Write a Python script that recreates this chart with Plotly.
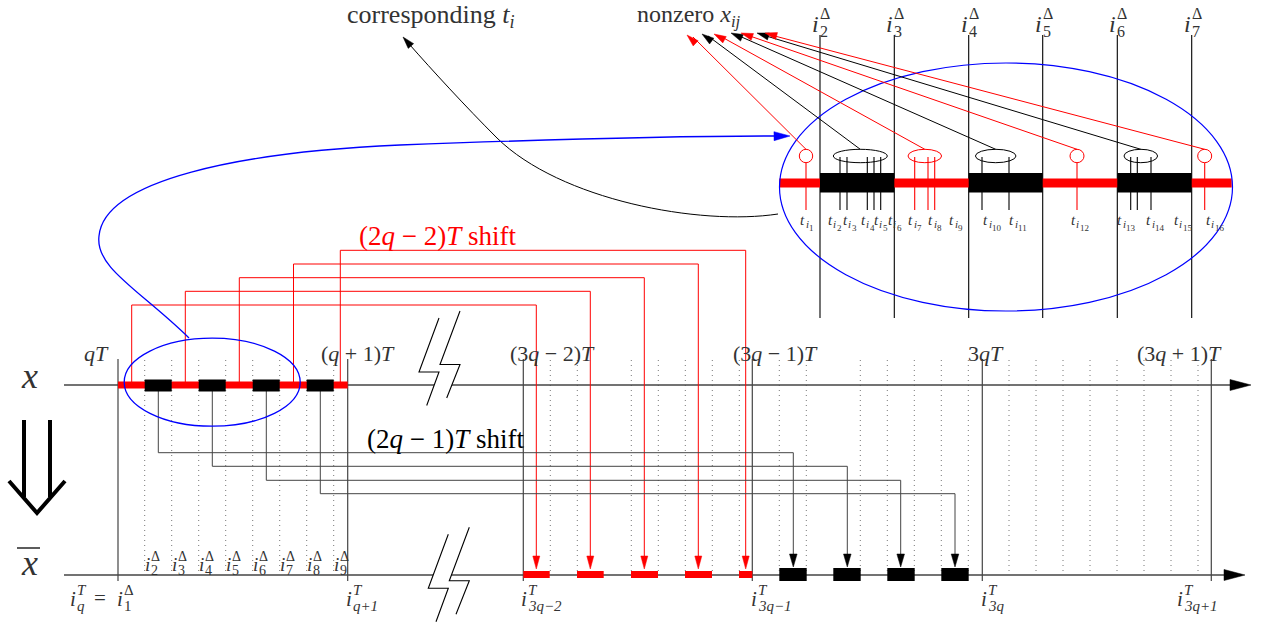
import math
import plotly.graph_objects as go

W, H = 1261, 626
FONT = "Liberation Serif"
TXT = "#333333"
RED = "#ff0000"
BLUE = "#0000ff"
BLK = "#000000"
AX = "#444444"
GRID = "#777777"

# ---------------- data (diagram coordinates) ----------------
AX_TOP_Y = 385
AX_BOT_Y = 575
period_x = [118.0, 347.7, 523.3, 752.3, 982.3, 1211.3]
period_top_labels = ["<i>qT</i>", "(<i>q</i> + 1)<i>T</i>", "(3<i>q</i> − 2)<i>T</i>",
                     "(3<i>q</i> − 1)<i>T</i>", "3<i>qT</i>", "(3<i>q</i> + 1)<i>T</i>"]
period_top_label_x = [84, 321, 510, 733, 968, 1137]
period_bot_subs = ["q", "q+1", "3q−2", "3q−1", "3q", "3q+1"]
period_bot_label_x = [70, 346, 521, 751, 981, 1177]

grid_left = [144.7, 171.7, 198.7, 225.7, 252.7, 279.7, 306.7, 333.7]
grid_right = [550.3, 577.3, 631.3, 658.3, 685.3, 712.3, 739.3, 779.3, 806.3, 860.3,
              887.3, 914.3, 941.3, 968.3, 1009, 1036, 1063, 1090, 1117, 1144, 1171, 1198]
delta_subs_bottom = ["2", "3", "4", "5", "6", "7", "8", "9"]

top_red_span = [118.0, 347.7]
top_black_blocks = [[144.7, 171.7], [198.7, 225.7], [252.7, 279.7], [306.7, 333.7]]

red_src_x = [131.7, 185.3, 239.3, 293.5, 340.3]
red_level_y = [305.0, 291.3, 277.7, 264.0, 250.3]
red_dst_x = [536.3, 590.3, 644.3, 698.3, 745.7]
bot_red_bars = [[523.3, 549.7], [577.0, 603.7], [631.0, 658.0], [685.0, 712.0], [739.0, 752.3]]

blk_src_x = [158.3, 212.3, 266.3, 320.3]
blk_level_y = [452.7, 466.3, 480.3, 493.7]
blk_dst_x = [793.3, 847.3, 900.7, 955.0]
bot_black_blocks = [[779.3, 806.7], [833.3, 860.7], [887.3, 914.7], [941.3, 968.7]]

# inset
inset_bar_y = 183
inset_span = [779.3, 1231.7]
inset_delta_x = [820.0, 894.3, 968.7, 1042.7, 1117.3, 1191.7]
inset_delta_subs = ["2", "3", "4", "5", "6", "7"]
inset_black_blocks = [[820.0, 894.3], [968.7, 1042.7], [1117.3, 1191.7]]
group_color = [RED, BLK, RED, BLK, RED, BLK, RED]
group_cx = [806.0, 860.3, 924.8, 995.7, 1077.0, 1140.8, 1204.7]
group_rx = [6.7, 27.0, 16.8, 20.3, 7.0, 16.8, 7.0]
group_ticks = [[806.0], [840.0, 847.0, 867.3, 874.0, 880.7], [914.7, 928.0, 934.7],
               [982.0, 1009.0], [1077.0], [1130.7, 1137.3, 1151.0], [1204.7]]
arrow_tip_x = [687, 702, 714, 731, 741, 757, 765]
arrow_tip_y = [35, 34, 34, 33, 33, 33, 33]
t_label_x = [807.7, 835, 850, 868, 881, 895, 915.7, 935.7, 956.7, 992.7, 1018.7,
             1080, 1126.7, 1155.7, 1183.3, 1215]
t_label_n = [str(k) for k in range(1, 17)]

shapes = []
annotations = []


def line(x0, y0, x1, y1, color=BLK, width=1.0, dash="solid"):
    shapes.append(dict(type="line", xref="x", yref="y", x0=x0, y0=y0, x1=x1, y1=y1,
                       line=dict(color=color, width=width, dash=dash)))


def rect(x0, y0, x1, y1, color):
    shapes.append(dict(type="rect", xref="x", yref="y", x0=x0, y0=y0, x1=x1, y1=y1,
                       line=dict(width=0), fillcolor=color))


def path(d, color=BLK, width=1.0, fill=None):
    s = dict(type="path", xref="x", yref="y", path=d, line=dict(color=color, width=width))
    if fill:
        s["fillcolor"] = fill
    shapes.append(s)


def ellipse(cx, cy, rx, ry, color, width=1.0):
    shapes.append(dict(type="circle", xref="x", yref="y", x0=cx - rx, x1=cx + rx,
                       y0=cy - ry, y1=cy + ry, line=dict(color=color, width=width),
                       fillcolor="rgba(0,0,0,0)"))


def head(tip, frm, length, half, color):
    dx, dy = tip[0] - frm[0], tip[1] - frm[1]
    n = math.hypot(dx, dy)
    ux, uy = dx / n, dy / n
    bx, by = tip[0] - ux * length, tip[1] - uy * length
    px, py = -uy * half, ux * half
    d = f"M {tip[0]},{tip[1]} L {bx + px},{by + py} L {bx - px},{by - py} Z"
    shapes.append(dict(type="path", xref="x", yref="y", path=d,
                       line=dict(color=color, width=0.5), fillcolor=color))


def txt(x, y, s, size, color=TXT, xanchor="left", yanchor="middle"):
    annotations.append(dict(x=x, y=y, xref="x", yref="y", text=s, showarrow=False,
                            font=dict(size=size, color=color, family=FONT),
                            xanchor=xanchor, yanchor=yanchor, borderpad=0, borderwidth=0))


def stacked(x, y, base, sup, sub, bsize, ssize, bw):
    txt(x, y, base, bsize)
    if sup:
        txt(x + bw, y - bsize * 0.42, sup, ssize)
    if sub:
        txt(x + bw, y + bsize * 0.32, sub, ssize)


# ---------------- dotted grid ----------------
for gx in grid_left + grid_right:
    line(gx, 360, gx, AX_BOT_Y, GRID, 1.0, "1px,4px")

# ---------------- period lines ----------------
for px in period_x:
    line(px, 359, px, 581, AX, 1.2)

# ---------------- axes ----------------
line(64, AX_TOP_Y, 1232, AX_TOP_Y, AX, 1.3)
head((1251, AX_TOP_Y), (1200, AX_TOP_Y), 21, 5.5, BLK)
line(64, AX_BOT_Y, 1226, AX_BOT_Y, AX, 1.3)
head((1245, AX_BOT_Y), (1200, AX_BOT_Y), 21, 5.5, BLK)

# ---------------- red shift paths ----------------
for sx, ly, dx in zip(red_src_x, red_level_y, red_dst_x):
    path(f"M {sx},{AX_TOP_Y} L {sx},{ly} L {dx},{ly} L {dx},{560}", RED, 1.0)
    head((dx, 569), (dx, 540), 13, 3.5, RED)

# ---------------- black shift paths ----------------
for sx, ly, dx in zip(blk_src_x, blk_level_y, blk_dst_x):
    path(f"M {sx},{AX_TOP_Y} L {sx},{ly} L {dx},{ly} L {dx},{556}", AX, 1.0)
    head((dx, 567), (dx, 540), 13, 3.8, BLK)

# ---------------- bars and blocks ----------------
rect(top_red_span[0], AX_TOP_Y - 3.5, top_red_span[1], AX_TOP_Y + 3.5, RED)
for b in top_black_blocks:
    rect(b[0], AX_TOP_Y - 5.5, b[1], AX_TOP_Y + 6.5, BLK)
for b in bot_red_bars:
    rect(b[0], AX_BOT_Y - 4, b[1], AX_BOT_Y + 3, RED)
for b in bot_black_blocks:
    rect(b[0], AX_BOT_Y - 7, b[1], AX_BOT_Y + 6, BLK)

# small blue ellipse
ellipse(212.2, 382.2, 88, 44, BLUE, 1.3)

# ---------------- lightning break symbols ----------------
bolt_right = [(0, 0), (-20, 53.5), (0, 53.5), (-13.3, 87)]
bolt_left = [(-21, 7), (-41, 61), (-21, 61), (-33.3, 94.5)]
for ax_, ay_ in [(460.0, 311.0), (469.3, 527.3)]:
    L = [(ax_ + p[0], ay_ + p[1]) for p in bolt_left]
    R = [(ax_ + p[0], ay_ + p[1]) for p in bolt_right]
    poly = L + R[::-1]
    d = "M " + " L ".join(f"{p[0]},{p[1]}" for p in poly) + " Z"
    shapes.append(dict(type="path", xref="x", yref="y", path=d, line=dict(width=0),
                       fillcolor="white"))
    for P in (L, R):
        path("M " + " L ".join(f"{p[0]},{p[1]}" for p in P), BLK, 1.1)

# ---------------- inset ----------------
for ix in inset_delta_x:
    line(ix, 35, ix, 318, BLK, 1.1)
rect(inset_span[0], inset_bar_y - 4.5, inset_span[1], inset_bar_y + 4.5, RED)
for b in inset_black_blocks:
    rect(b[0], inset_bar_y - 10, b[1], inset_bar_y + 9.5, BLK)
ellipse(1006, 187, 226.5, 124, BLUE, 1.2)
for col, cx, rx, ticks, tx, ty in zip(group_color, group_cx, group_rx, group_ticks,
                                      arrow_tip_x, arrow_tip_y):
    ellipse(cx, 156, rx, 6.7, col, 1.0)
    y_start = 162.7 if rx < 8 else 157
    for t in ticks:
        line(t, y_start, t, 210, col, 1.1)
    line(cx, 149.3, tx + 6, ty + 2, col, 1.0)
    head((tx, ty), (cx, 149.3), 12, 3.6, col)

# "corresponding t_i" curve
path("M 778,214 C 700,226 560,200 497,138 C 465,106 432,70 410,45", BLK, 1.0)
head((403, 37), (425, 62), 12, 3.6, BLK)

# blue curve between the ellipses
path("M 189,338 C 140,290 95,268 99,236 C 104,180 240,152 400,145 C 560,139 700,136 776,136",
     BLUE, 1.3)
head((790, 136), (760, 136.3), 16, 4.5, BLUE)

# ---------------- double arrow ----------------
line(24, 420, 24, 497, BLK, 4)
line(50, 420, 50, 497, BLK, 4)
path("M 9,481 L 37,513 L 65,481", BLK, 4)

# ---------------- texts ----------------
txt(29, 376, "<i>x</i>", 36, TXT, "center")
txt(29, 563, "<i>x</i>", 36, TXT, "center")
line(17, 548, 40, 548, TXT, 1.6)

for lx, s in zip(period_top_label_x, period_top_labels):
    txt(lx, 353, s, 22)

for lx, sub in zip(period_bot_label_x, period_bot_subs):
    stacked(lx, 599, "<i>i</i>", "<i>T</i>", f"<i>{sub}</i>", 21, 15, 7)
txt(94, 598, "=", 21)
stacked(117, 599, "<i>i</i>", "Δ", "1", 21, 15, 7)

for gx, s in zip(grid_left, delta_subs_bottom):
    stacked(gx, 564, "<i>i</i>", "Δ", s, 19, 14, 6.5)

for ix, s in zip(inset_delta_x, inset_delta_subs):
    stacked(ix - 8, 24, "<i>i</i>", "Δ", s, 24, 16, 8)

for cx, n in zip(t_label_x, t_label_n):
    w = 6 + 4 + 4.5 * len(n)
    x0 = cx - w / 2
    txt(x0, 220, "<i>t</i>", 15)
    txt(x0 + 5.5, 224, "<i>i</i>", 11)
    txt(x0 + 9, 227.5, n, 9)

txt(347, 16, "corresponding <i>t<sub>i</sub></i>", 26)
txt(637, 16, "nonzero <i>x<sub>ij</sub></i>", 24)
txt(359, 236, "(2<i>q</i> − 2)<i>T</i> shift", 27, RED)
txt(367, 439, "(2<i>q</i> − 1)<i>T</i> shift", 27, BLK)

fig = go.Figure()
fig.update_layout(
    width=W, height=H, margin=dict(l=0, r=0, t=0, b=0),
    paper_bgcolor="white", plot_bgcolor="white",
    xaxis=dict(range=[0, W], visible=False, fixedrange=True),
    yaxis=dict(range=[H, 0], visible=False, fixedrange=True),
    shapes=shapes, annotations=annotations, showlegend=False,
)
fig.write_html("out.html", config={"displayModeBar": False})
